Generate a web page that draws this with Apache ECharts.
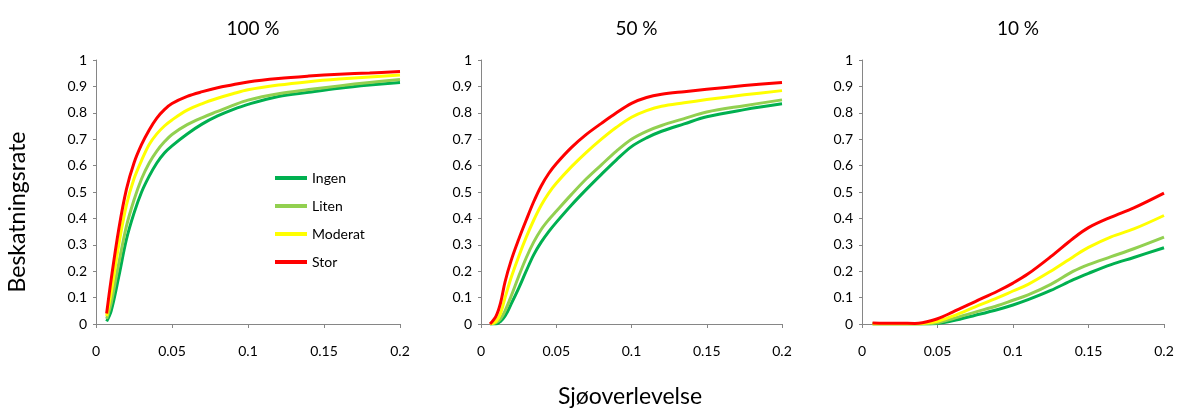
<!DOCTYPE html>
<html>
<head>
<meta charset="utf-8">
<script src="https://cdn.jsdelivr.net/npm/echarts@6/dist/echarts.min.js"></script>
<style>html,body{margin:0;padding:0;background:#fff;}#c{width:1177px;height:409px;}</style>
</head>
<body>
<div id="c"></div>
<script>
var panelTitles = ['100 %', '50 %', '10 %'];
var seriesNames = ['Ingen', 'Liten', 'Moderat', 'Stor'];
var seriesColors = ['#00B050', '#92D050', '#FFFF00', '#FF0000'];
var yAxisName = 'Beskatningsrate';
var xAxisName = 'Sjøoverlevelse';

// Panel 1: 100 %
var x100 = [0.007,0.01,0.015,0.02,0.025,0.03,0.035,0.04,0.045,0.05,0.06,0.07,0.08,0.09,0.1,0.12,0.14,0.16,0.18,0.2];
var ingen100 = [0.01,0.05,0.18,0.32,0.42,0.5,0.56,0.61,0.648,0.675,0.72,0.758,0.788,0.812,0.832,0.862,0.878,0.893,0.905,0.915];
var liten100 = [0.02,0.08,0.23,0.37,0.47,0.55,0.61,0.655,0.69,0.718,0.755,0.782,0.805,0.828,0.848,0.872,0.888,0.902,0.915,0.926];
var moderat100 = [0.03,0.12,0.3,0.45,0.55,0.62,0.68,0.72,0.75,0.773,0.81,0.835,0.855,0.872,0.887,0.905,0.918,0.928,0.936,0.943];
var stor100 = [0.04,0.17,0.36,0.51,0.61,0.68,0.735,0.78,0.812,0.835,0.862,0.88,0.895,0.906,0.917,0.93,0.939,0.946,0.951,0.956];

// Panel 2: 50 %
var x50 = [0.006,0.01,0.013,0.016,0.02,0.025,0.03,0.035,0.04,0.045,0.05,0.06,0.07,0.08,0.09,0.1,0.11,0.12,0.135,0.15,0.175,0.2];
var ingen50 = [0,0,0.01,0.03,0.075,0.135,0.2,0.262,0.31,0.35,0.385,0.45,0.51,0.567,0.622,0.672,0.705,0.73,0.758,0.785,0.812,0.834];
var liten50 = [0,0.005,0.02,0.05,0.105,0.18,0.25,0.31,0.358,0.395,0.427,0.49,0.55,0.603,0.655,0.70,0.73,0.752,0.778,0.803,0.827,0.849];
var moderat50 = [0,0.01,0.04,0.1,0.175,0.255,0.328,0.393,0.45,0.496,0.533,0.595,0.65,0.7,0.745,0.783,0.808,0.825,0.838,0.85,0.868,0.884];
var stor50 = [0,0.03,0.08,0.16,0.24,0.32,0.393,0.463,0.523,0.57,0.607,0.668,0.718,0.76,0.8,0.836,0.858,0.87,0.88,0.889,0.903,0.915];

// Panel 3: 10 %
var x10 = [0.007,0.015,0.025,0.035,0.04,0.05,0.06,0.075,0.09,0.1,0.11,0.125,0.14,0.15,0.165,0.18,0.2];
var ingen10 = [0,0,0,0,0,0.002,0.012,0.033,0.055,0.072,0.092,0.127,0.168,0.192,0.225,0.252,0.289];
var liten10 = [0,0,0,0,0,0.005,0.02,0.045,0.07,0.09,0.11,0.15,0.2,0.225,0.255,0.285,0.329];
var moderat10 = [0,0,0,0,0.002,0.01,0.03,0.065,0.1,0.125,0.15,0.2,0.255,0.29,0.33,0.36,0.411];
var stor10 = [0.004,0.003,0.003,0.002,0.005,0.02,0.045,0.085,0.125,0.155,0.19,0.255,0.325,0.365,0.405,0.44,0.496];

var panels = [
  {x: x100, ys: [ingen100, liten100, moderat100, stor100]},
  {x: x50, ys: [ingen50, liten50, moderat50, stor50]},
  {x: x10, ys: [ingen10, liten10, moderat10, stor10]}
];

var FONT = 'Lato, "Open Sans", sans-serif';
var gridLefts = [96, 481, 862];
var gridWidths = [304, 301, 302];

var grids = [], xAxes = [], yAxes = [], series = [], titles = [];
panels.forEach(function (p, i) {
  grids.push({left: gridLefts[i], top: 60, width: gridWidths[i], height: 264, containLabel: false});
  xAxes.push({
    type: 'value', gridIndex: i, min: 0, max: 0.2, interval: 0.05,
    axisLine: {show: true, lineStyle: {color: '#868686', width: 1}},
    axisTick: {show: true, length: 4, lineStyle: {color: '#868686'}},
    splitLine: {show: false},
    axisLabel: {color: '#000', fontSize: 14, fontFamily: FONT, margin: 20}
  });
  yAxes.push({
    type: 'value', gridIndex: i, min: 0, max: 1, interval: 0.1,
    axisLine: {show: true, lineStyle: {color: '#868686', width: 1}},
    axisTick: {show: true, length: 3, lineStyle: {color: '#868686'}},
    splitLine: {show: false},
    axisLabel: {color: '#000', fontSize: 14, fontFamily: FONT, margin: 9}
  });
  titles.push({
    text: panelTitles[i],
    left: gridLefts[i] + gridWidths[i] / 2, top: 14, textAlign: 'center',
    textStyle: {fontSize: 19, fontWeight: 'normal', color: '#000', fontFamily: FONT}
  });
  p.ys.forEach(function (ys, k) {
    series.push({
      name: seriesNames[k], type: 'line', xAxisIndex: i, yAxisIndex: i,
      data: p.x.map(function (xv, j) { return [xv, ys[j]]; }),
      smooth: 0.35, showSymbol: false, symbol: 'none',
      lineStyle: {width: 3, color: seriesColors[k]},
      itemStyle: {color: seriesColors[k]},
      z: 2 + k
    });
  });
});

var chart = echarts.init(document.getElementById('c'), null, {renderer: 'canvas'});
chart.setOption({
  backgroundColor: '#fff',
  animation: false,
  title: titles,
  grid: grids,
  xAxis: xAxes,
  yAxis: yAxes,
  legend: {
    data: seriesNames,
    orient: 'vertical',
    left: 270, top: 166,
    itemWidth: 32, itemHeight: 4, itemGap: 14,
    icon: 'rect',
    textStyle: {fontSize: 14, color: '#000', fontFamily: FONT}
  },
  graphic: [
    {type: 'text', x: 18, y: 212, rotation: Math.PI / 2,
      style: {text: yAxisName, fontSize: 23, fill: '#000', fontFamily: FONT, textAlign: 'center', textVerticalAlign: 'middle'}},
    {type: 'text', x: 630, y: 397,
      style: {text: xAxisName, fontSize: 23, fill: '#000', fontFamily: FONT, textAlign: 'center', textVerticalAlign: 'middle'}}
  ],
  series: series
});
</script>
</body>
</html>
